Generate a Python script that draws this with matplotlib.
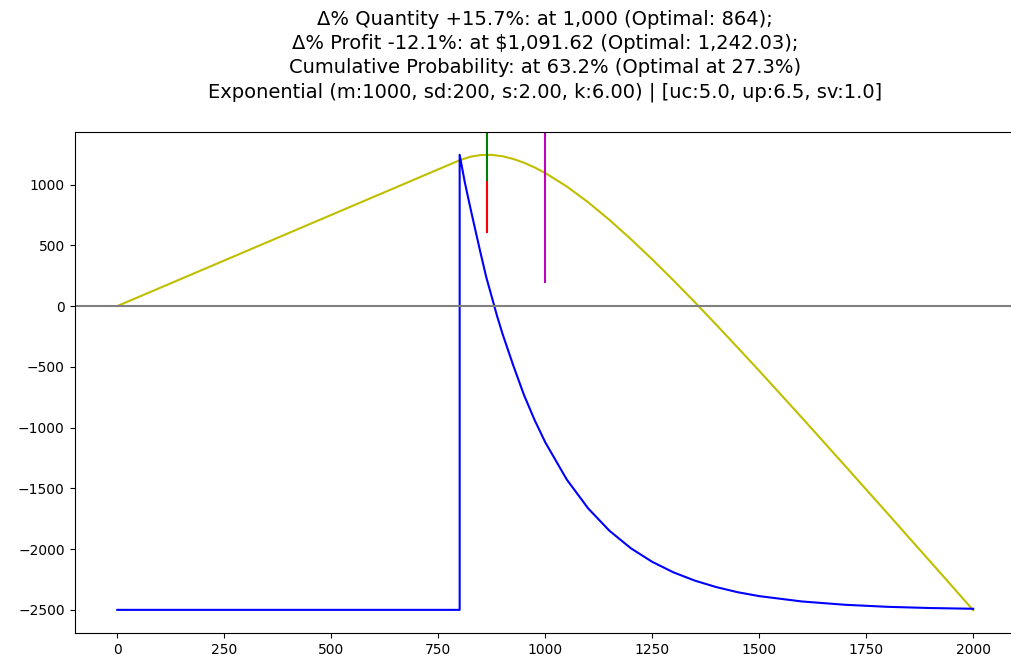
import matplotlib
matplotlib.use("Agg")
import matplotlib.pyplot as plt

# expected profit by order quantity
profit_q = [0, 800, 825, 850, 875, 900, 925, 950, 975, 1000, 1050, 1100, 1150,
            1200, 1250, 1300, 1350, 1400, 1450, 1500, 1550, 1600, 1650, 1700,
            1750, 1800, 1850, 1900, 1950, 2000]
profit = [0, 1200, 1229, 1243, 1244, 1233, 1211, 1180, 1141, 1095, 985, 855, 709,
          551, 384, 210, 30, -155, -343, -533, -726, -920, -1116, -1312,
          -1510, -1707, -1906, -2104, -2303, -2503]

# scaled demand density
dens_q = [0, 800, 800, 812, 825, 837, 850, 862, 875, 887, 900, 925, 950, 975,
          1000, 1050, 1100, 1150, 1200, 1250, 1300, 1350, 1400, 1450, 1500,
          1600, 1700, 1800, 1900, 2000]
dens = [-2500, -2500, 1245, 1019, 808, 620, 419, 240, 76, -77, -227, -486, -729,
        -937, -1121, -1426, -1664, -1849, -1993, -2105, -2192, -2260, -2313,
        -2355, -2387, -2431, -2458, -2475, -2485, -2491]

q_opt = 864
q_sel = 1000

title = ("Δ% Quantity +15.7%: at 1,000 (Optimal: 864);\n"
         "Δ% Profit -12.1%: at $1,091.62 (Optimal: 1,242.03);\n"
         "Cumulative Probability: at 63.2% (Optimal at 27.3%)\n"
         "Exponential (m:1000, sd:200, s:2.00, k:6.00) | [uc:5.0, up:6.5, sv:1.0]")

fig = plt.figure(figsize=(10.11, 6.64), dpi=100)
ax = fig.add_axes([74.5 / 1011, 31 / 664, 941.5 / 1011, 501 / 664])

ax.plot(profit_q, profit, c="y")
ax.plot(dens_q, dens, c="b")
ax.axhline(0, color="grey")
ax.axvline(q_opt, ymin=0.9, ymax=1.0, color="g")
ax.axvline(q_opt, ymin=0.8, ymax=0.9, color="r")
ax.axvline(q_sel, ymin=0.7, ymax=1.0, color="m")

ax.set_title(title, fontsize=14, linespacing=1.33, pad=25)

fig.savefig("out.png", dpi=100)
